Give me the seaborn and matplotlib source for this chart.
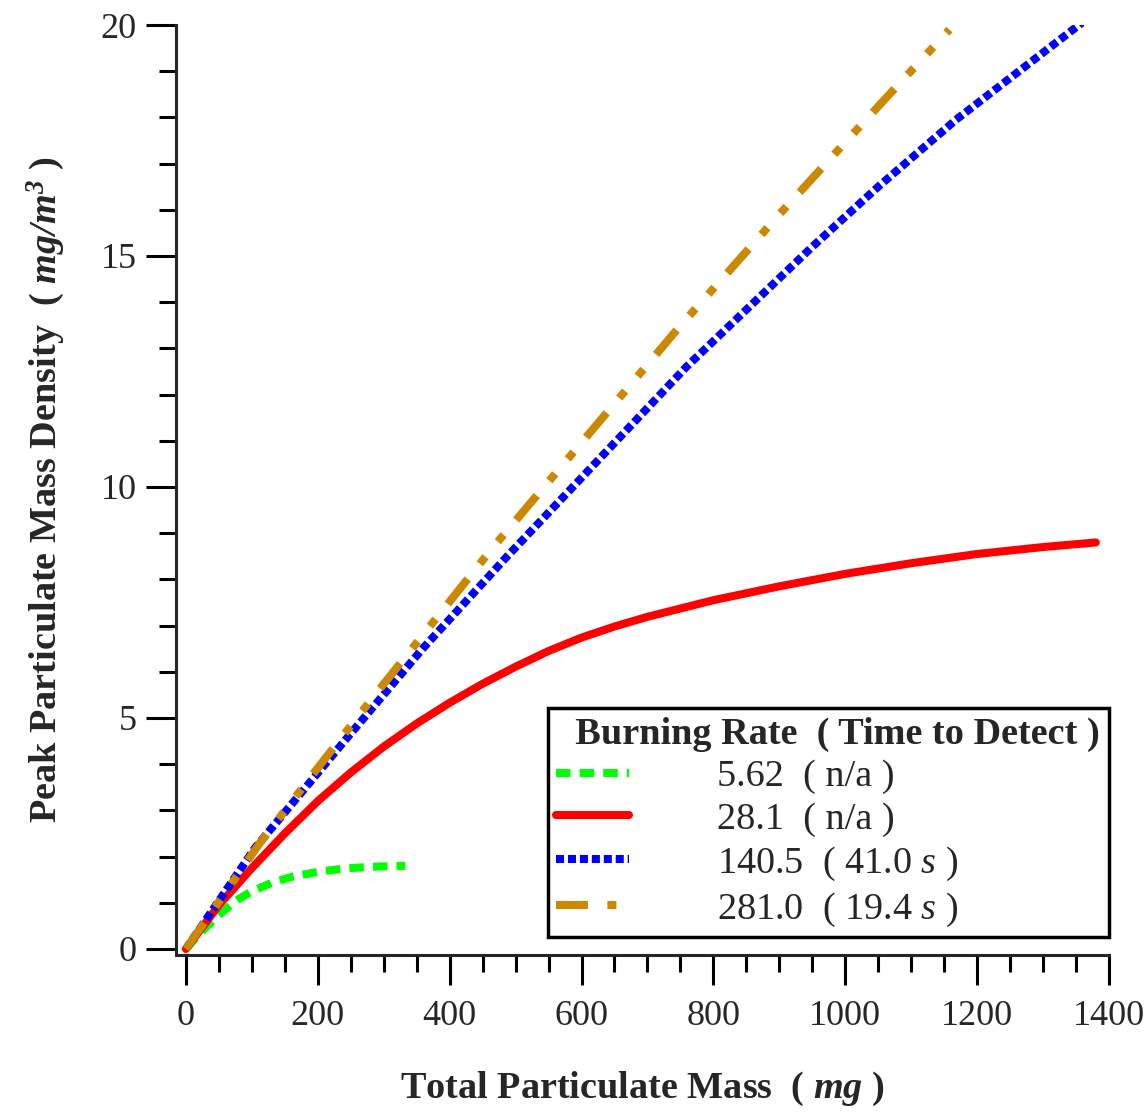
import matplotlib
matplotlib.use("Agg")
import matplotlib.pyplot as plt
import seaborn as sns
from matplotlib.ticker import MultipleLocator

# ---------------- data ----------------
green_x = [0, 20, 40, 60, 80, 100, 130, 160, 200, 240, 280, 333]
green_y = [0, 0.32, 0.60, 0.86, 1.08, 1.25, 1.43, 1.56, 1.67, 1.74, 1.78, 1.80]

red_x = [0, 50, 100, 150, 200, 250, 300, 350, 400, 450, 500, 550, 600, 650, 700,
         800, 900, 1000, 1100, 1200, 1300, 1380]
red_y = [0, 0.95, 1.75, 2.50, 3.20, 3.82, 4.38, 4.88, 5.33, 5.74, 6.11, 6.45,
         6.74, 6.98, 7.19, 7.55, 7.85, 8.12, 8.35, 8.55, 8.70, 8.80]

blue_x = [0, 105, 200, 248, 359, 486, 600, 759, 950, 1050, 1168, 1359]
blue_y = [0, 2.19, 3.81, 4.63, 6.50, 8.48, 10.20, 12.60, 15.20, 16.50, 17.95, 20.05]

orange_x = [0, 112, 200, 289, 465, 600, 748, 900, 1041, 1158]
orange_y = [0, 2.29, 3.92, 5.54, 8.68, 10.96, 13.46, 15.90, 18.10, 19.90]

legend_labels = ["5.62  ( n/a )", "28.1  ( n/a )",
                 r"140.5  ( 41.0 $\mathit{s}$ )", r"281.0  ( 19.4 $\mathit{s}$ )"]
legend_title = "  Burning Rate  ( Time to Detect )"
x_label = r"Total Particulate Mass  ( $\mathsf{mg}$ )"
y_label = r"Peak Particulate Mass Density  ( $\mathsf{mg/m^{3}}$ )"

# ---------------- style ----------------
sns.set_style("ticks")
plt.rcParams.update({
    "font.family": ["Liberation Serif", "DejaVu Serif"],
    "mathtext.fontset": "custom",
    "mathtext.rm": "Liberation Serif",
    "mathtext.it": "Liberation Serif:italic",
    "mathtext.sf": "Liberation Serif:italic:bold",
    "mathtext.bf": "Liberation Serif:bold",
    "lines.scale_dashes": False,
})

W, H = 1146, 1115
fig = plt.figure(figsize=(W / 100, H / 100), dpi=100)
ax = fig.add_axes([176 / W, 1 - 955 / H, (1109 - 176) / W, (955 - 25) / H])

LW = 5.8
sns.lineplot(x=green_x, y=green_y, ax=ax, color="#00ff00", lw=LW,
             linestyle=(0, (10.5, 6.5)), label=legend_labels[0], sort=False)
sns.lineplot(x=red_x, y=red_y, ax=ax, color="#ff0000", lw=LW,
             linestyle="-", label=legend_labels[1], sort=False)
sns.lineplot(x=blue_x, y=blue_y, ax=ax, color="#0000ff", lw=LW,
             linestyle=(0, (5.8, 2.8)), label=legend_labels[2], sort=False)
sns.lineplot(x=orange_x, y=orange_y, ax=ax, color="#cc8800", lw=LW,
             linestyle=(0, (23, 14, 6.5, 14, 6.5, 14)), label=legend_labels[3],
             sort=False)

ax.set_xlim(-15, 1400)
ax.set_ylim(-0.13, 20)
ax.xaxis.set_major_locator(MultipleLocator(200))
ax.xaxis.set_minor_locator(MultipleLocator(50))
ax.yaxis.set_major_locator(MultipleLocator(5))
ax.yaxis.set_minor_locator(MultipleLocator(1))

for s in ["top", "right"]:
    ax.spines[s].set_visible(False)
for s in ["left", "bottom"]:
    ax.spines[s].set_linewidth(2.2)

ax.tick_params(which="major", direction="out", length=21.5, width=2.2,
               labelsize=26, color="black")
ax.tick_params(which="minor", direction="out", length=12, width=2.2, color="black")
ax.tick_params(axis="x", which="major", pad=11)
ax.tick_params(axis="y", which="major", pad=7)

ax.set_xlabel(x_label, fontsize=27.5, fontweight="bold", labelpad=26)
ax.set_ylabel(y_label, fontsize=27.5, fontweight="bold", labelpad=24)

leg = ax.legend(title=legend_title, loc="lower left",
                bbox_to_anchor=(548 / W, 1 - 937 / H), bbox_transform=fig.transFigure,
                borderaxespad=0, frameon=True, fancybox=False, framealpha=1,
                edgecolor="black", alignment="left",
                prop={"family": "Liberation Serif", "size": 27.5},
                title_fontproperties={"family": "Liberation Serif", "size": 27.5,
                                      "weight": "bold"},
                handlelength=1.9, handletextpad=2.3, labelspacing=0.2,
                borderpad=0.22)
leg.get_frame().set_linewidth(2.5)

fig.savefig("out.png", dpi=100, facecolor="white")
